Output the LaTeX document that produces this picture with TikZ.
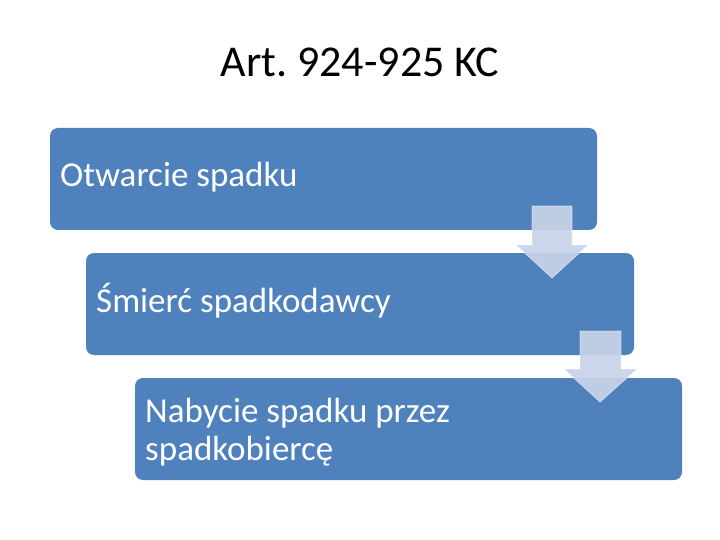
\documentclass[tikz,border=0pt]{standalone}
\usepackage{fontspec}
\setmainfont{Carlito}
\frenchspacing
\definecolor{boxblue}{RGB}{79,129,189}
\definecolor{arrowfill}{RGB}{200,211,232}
\begin{document}
\begin{tikzpicture}[x=1pt,y=-1pt,
  boxshape/.style={fill=boxblue, rounded corners=8pt},
  boxtext/.style={text=white, font=\fontsize{35}{38}\selectfont, align=left, anchor=base west, inner sep=0pt},
  downarrow/.style={fill=arrowfill, fill opacity=0.92, draw=white, draw opacity=0.5, line width=0.8pt}]
\useasboundingbox (0,0) rectangle (720,540);
\node[font=\fontsize{44}{50}\selectfont, anchor=base, inner sep=0pt] (title) at (360,77) {Art. 924-925 KC};
% boxes
\fill[boxshape] (50,128) rectangle (597,230);
\fill[boxshape] (86,253) rectangle (634,355);
\fill[boxshape] (135,378) rectangle (682,480);
\node[boxtext] (b1) at (60,187) {Otwarcie spadku};
\node[boxtext] (b2) at (96,312) {Śmierć spadkodawcy};
\node[boxtext] (b3) at (145,460) {Nabycie spadku przez\\spadkobiercę};
% arrows
\draw[downarrow] (532,206) -- (572,206) -- (572,245) -- (588,245) -- (552,278) -- (516,245) -- (532,245) -- cycle;
\draw[downarrow] (580,331) -- (621,331) -- (621,369) -- (637,369) -- (600,402) -- (564,369) -- (580,369) -- cycle;
\end{tikzpicture}
\end{document}
